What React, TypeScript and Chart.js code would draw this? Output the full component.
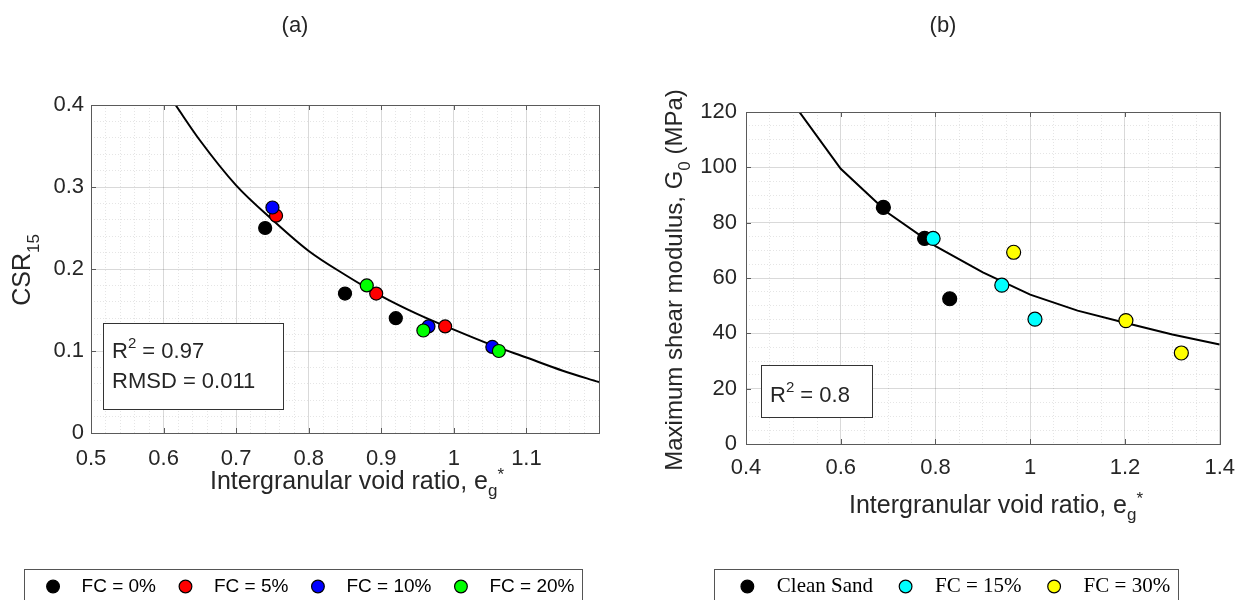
import React, { useEffect, useRef } from 'react';
import { Chart, registerables } from 'chart.js';

Chart.register(...registerables);

const SANS = "'Liberation Sans', Arial, Helvetica, sans-serif";
const SERIF = "'Liberation Serif', 'Times New Roman', serif";
const TEXT = '#262626';
const AXIS = '#5a5a5a';
const MAJOR_GRID = 'rgba(0,0,0,0.15)';
const MINOR_GRID = 'rgba(0,0,0,0.1)';

// ===== Panel (a) data =====
const A_LABELS = ['FC = 0%', 'FC = 5%', 'FC = 10%', 'FC = 20%'];
const A_COLORS = ['#000000', '#ff0000', '#0000ff', '#00ff00'];
const A_FC0_X = [0.74, 0.85, 0.92];
const A_FC0_Y = [0.25, 0.17, 0.14];
const A_FC5_X = [0.755, 0.893, 0.988];
const A_FC5_Y = [0.265, 0.17, 0.13];
const A_FC10_X = [0.75, 0.965, 1.053];
const A_FC10_Y = [0.275, 0.13, 0.105];
const A_FC20_X = [0.88, 0.958, 1.062];
const A_FC20_Y = [0.18, 0.125, 0.1];
const A_FIT_X = [0.6165, 0.65, 0.7, 0.75, 0.8, 0.85, 0.9, 0.95, 1.0, 1.05, 1.1, 1.15, 1.2];
const A_FIT_Y = [0.4, 0.357, 0.302, 0.26, 0.222, 0.193, 0.167, 0.145, 0.126, 0.108, 0.092, 0.076, 0.062];
const A_X_TICKS = [0.5, 0.6, 0.7, 0.8, 0.9, 1.0, 1.1];
const A_X_TICK_LABELS = ['0.5', '0.6', '0.7', '0.8', '0.9', '1', '1.1'];
const A_Y_TICKS = [0, 0.1, 0.2, 0.3, 0.4];
const A_Y_TICK_LABELS = ['0', '0.1', '0.2', '0.3', '0.4'];

// ===== Panel (b) data =====
const B_LABELS = ['Clean Sand', 'FC = 15%', 'FC = 30%'];
const B_COLORS = ['#000000', '#00ffff', '#ffff00'];
const B_CLEAN_X = [0.69, 0.777, 0.83];
const B_CLEAN_Y = [85.5, 74.3, 52.5];
const B_FC15_X = [0.795, 0.94, 1.01];
const B_FC15_Y = [74.3, 57.4, 45.1];
const B_FC30_X = [0.965, 1.202, 1.319];
const B_FC30_Y = [69.3, 44.6, 32.9];
const B_FIT_X = [0.5, 0.6, 0.7, 0.8, 0.9, 1.0, 1.1, 1.2, 1.3, 1.4];
const B_FIT_Y = [123, 99.5, 83.5, 71.5, 62, 54, 48.2, 43.8, 39.6, 36];
const B_X_TICKS = [0.4, 0.6, 0.8, 1.0, 1.2, 1.4];
const B_X_TICK_LABELS = ['0.4', '0.6', '0.8', '1', '1.2', '1.4'];
const B_Y_TICKS = [0, 20, 40, 60, 80, 100, 120];
const B_Y_TICK_LABELS = ['0', '20', '40', '60', '80', '100', '120'];

type Seg = { t: string; size: number; dy?: number };

const near = (v: number, arr: number[]) => arr.findIndex((a) => Math.abs(a - v) < 1e-7);

function drawRich(ctx: CanvasRenderingContext2D, segs: Seg[], x: number, y: number, align: 'left' | 'center', rotate: boolean, family: string) {
  ctx.save();
  ctx.translate(x, y);
  if (rotate) ctx.rotate(-Math.PI / 2);
  const widths = segs.map((s) => {
    ctx.font = `${s.size}px ${family}`;
    return ctx.measureText(s.t).width;
  });
  const total = widths.reduce((a, b) => a + b, 0);
  let cx = align === 'center' ? -total / 2 : 0;
  ctx.fillStyle = TEXT;
  ctx.textAlign = 'left';
  ctx.textBaseline = 'alphabetic';
  segs.forEach((s, i) => {
    ctx.font = `${s.size}px ${family}`;
    ctx.fillText(s.t, cx, s.dy || 0);
    cx += widths[i];
  });
  ctx.restore();
}

interface Spec {
  width: number;
  height: number;
  title: string;
  titleX: number;
  titleY: number;
  xMin: number; xMax: number; xMinor: number;
  yMin: number; yMax: number; yMinor: number;
  xTicks: number[]; xTickLabels: string[];
  yTicks: number[]; yTickLabels: string[];
  datasets: any[];
  xTitle: Seg[]; xTitleX: number; xTitleY: number;
  yTitle: Seg[]; yTitleX: number; yTitleY: number;
  noteLines: Seg[][]; noteBox: number[]; noteX: number; noteBaselines: number[];
  legendFamily: string; legendSize: number; legendBoxWidth: number; legendPadding: number;
  legendBoxPadL: number; legendBoxPadR: number;
  padLeft: number; padRight: number; padTop: number;
  yAxisWidth: number; xAxisHeight: number; xTickPad: number; yTickPad: number;
}

function overlay(p: Spec) {
  return {
    id: 'overlay',
    afterDraw(chart: any) {
      const ctx: CanvasRenderingContext2D = chart.ctx;
      const a = chart.chartArea;
      const xs = chart.scales.x;
      const ys = chart.scales.y;
      ctx.save();
      // inner tick marks
      ctx.strokeStyle = AXIS;
      ctx.lineWidth = 1;
      ctx.beginPath();
      p.xTicks.forEach((v) => {
        const px = Math.round(xs.getPixelForValue(v)) + 0.5;
        ctx.moveTo(px, a.bottom); ctx.lineTo(px, a.bottom - 5);
        ctx.moveTo(px, a.top); ctx.lineTo(px, a.top + 5);
      });
      p.yTicks.forEach((v) => {
        const py = Math.round(ys.getPixelForValue(v)) + 0.5;
        ctx.moveTo(a.left, py); ctx.lineTo(a.left + 5, py);
        ctx.moveTo(a.right, py); ctx.lineTo(a.right - 5, py);
      });
      ctx.stroke();
      // axes box
      ctx.strokeRect(Math.round(a.left) + 0.5, Math.round(a.top) + 0.5, Math.round(a.right - a.left), Math.round(a.bottom - a.top));
      // note box
      const [bx0, by0, bx1, by1] = p.noteBox;
      ctx.fillStyle = '#ffffff';
      ctx.fillRect(bx0, by0, bx1 - bx0, by1 - by0);
      ctx.strokeStyle = '#333333';
      ctx.strokeRect(bx0 + 0.5, by0 + 0.5, bx1 - bx0, by1 - by0);
      p.noteLines.forEach((line, i) => drawRich(ctx, line, p.noteX, p.noteBaselines[i], 'left', false, SANS));
      // axis titles
      drawRich(ctx, p.xTitle, p.xTitleX, p.xTitleY, 'center', false, SANS);
      drawRich(ctx, p.yTitle, p.yTitleX, p.yTitleY, 'center', true, SANS);
      // panel title
      drawRich(ctx, [{ t: p.title, size: 22 }], p.titleX, p.titleY, 'center', false, SANS);
      // legend frame
      const lg = chart.legend;
      if (lg && lg.legendHitBoxes && lg.legendHitBoxes.length) {
        const hb = lg.legendHitBoxes;
        const first = hb[0];
        const last = hb[hb.length - 1];
        const x0 = Math.round(first.left - p.legendBoxPadL);
        const x1 = Math.round(last.left + last.width + p.legendBoxPadR);
        const y0 = Math.round(first.top + first.height / 2 - 18);
        ctx.strokeStyle = '#555555';
        ctx.strokeRect(x0 + 0.5, y0 + 0.5, x1 - x0, 80);
      }
      ctx.restore();
    },
  };
}

function buildConfig(p: Spec): any {
  const isMajorX = (v: number) => near(v, p.xTicks) >= 0;
  const isMajorY = (v: number) => near(v, p.yTicks) >= 0;
  return {
    type: 'scatter',
    data: { datasets: p.datasets },
    plugins: [overlay(p)],
    options: {
      responsive: false,
      animation: false,
      events: [],
      layout: { padding: { left: p.padLeft, right: p.padRight, top: p.padTop, bottom: 0 } },
      plugins: {
        title: { display: false },
        tooltip: { enabled: false },
        legend: {
          display: true,
          position: 'bottom',
          align: 'center',
          labels: {
            usePointStyle: true,
            boxWidth: p.legendBoxWidth,
            boxHeight: 9,
            padding: p.legendPadding,
            color: '#000000',
            font: { family: p.legendFamily, size: p.legendSize },
            filter: (item: any, data: any) => !data.datasets[item.datasetIndex].isFit,
            sort: (a: any, b: any) => a.datasetIndex - b.datasetIndex,
            generateLabels: (chart: any) =>
              Chart.defaults.plugins.legend.labels.generateLabels(chart).map((it: any) => ({ ...it, text: '\u2002' + it.text })),
          },
        },
      },
      scales: {
        x: {
          type: 'linear',
          position: 'bottom',
          min: p.xMin,
          max: p.xMax,
          afterFit: (s: any) => { s.height = p.xAxisHeight; },
          ticks: {
            stepSize: p.xMinor,
            autoSkip: false,
            maxRotation: 0,
            minRotation: 0,
            padding: p.xTickPad,
            color: TEXT,
            font: { family: SANS, size: 22 },
            callback: (v: number) => { const i = near(v, p.xTicks); return i >= 0 ? p.xTickLabels[i] : ''; },
          },
          grid: {
            drawTicks: false,
            lineWidth: 1,
            color: (c: any) => (c.tick && isMajorX(c.tick.value) ? MAJOR_GRID : MINOR_GRID),
          },
          border: {
            display: false,
            dash: (c: any) => (c.tick && isMajorX(c.tick.value) ? [] : [1, 2]),
          },
        },
        y: {
          type: 'linear',
          position: 'left',
          min: p.yMin,
          max: p.yMax,
          afterFit: (s: any) => { s.width = p.yAxisWidth; },
          ticks: {
            stepSize: p.yMinor,
            autoSkip: false,
            padding: p.yTickPad,
            color: TEXT,
            font: { family: SANS, size: 22 },
            callback: (v: number) => { const i = near(v, p.yTicks); return i >= 0 ? p.yTickLabels[i] : ''; },
          },
          grid: {
            drawTicks: false,
            lineWidth: 1,
            color: (c: any) => (c.tick && isMajorY(c.tick.value) ? MAJOR_GRID : MINOR_GRID),
          },
          border: {
            display: false,
            dash: (c: any) => (c.tick && isMajorY(c.tick.value) ? [] : [1, 2]),
          },
        },
      },
    },
  };
}

const pts = (xs: number[], ys: number[]) => xs.map((x, i) => ({ x, y: ys[i] }));

function markerSet(label: string, color: string, xs: number[], ys: number[], radius: number, order: number) {
  return {
    type: 'scatter',
    label,
    data: pts(xs, ys),
    backgroundColor: color,
    borderColor: '#000000',
    pointBorderColor: '#000000',
    pointBackgroundColor: color,
    pointBorderWidth: 1.2,
    borderWidth: 1.2,
    pointRadius: radius,
    pointStyle: 'circle',
    order,
  };
}

function fitSet(xs: number[], ys: number[], smooth: boolean) {
  return {
    type: 'line',
    label: 'fit',
    isFit: true,
    data: pts(xs, ys),
    borderColor: '#000000',
    backgroundColor: '#000000',
    borderWidth: 2,
    pointRadius: 0,
    fill: false,
    showLine: true,
    cubicInterpolationMode: smooth ? 'monotone' : 'default',
    tension: 0,
    order: 20,
  };
}

const A_SERIES_X = [A_FC0_X, A_FC5_X, A_FC10_X, A_FC20_X];
const A_SERIES_Y = [A_FC0_Y, A_FC5_Y, A_FC10_Y, A_FC20_Y];
const B_SERIES_X = [B_CLEAN_X, B_FC15_X, B_FC30_X];
const B_SERIES_Y = [B_CLEAN_Y, B_FC15_Y, B_FC30_Y];

const specA: Spec = {
  width: 623,
  height: 606,
  title: '(a)', titleX: 295, titleY: 32,
  xMin: 0.5, xMax: 1.2, xMinor: 0.02,
  yMin: 0, yMax: 0.4, yMinor: 0.02,
  xTicks: A_X_TICKS, xTickLabels: A_X_TICK_LABELS,
  yTicks: A_Y_TICKS, yTickLabels: A_Y_TICK_LABELS,
  datasets: [
    ...A_LABELS.map((l, i) => markerSet(l, A_COLORS[i], A_SERIES_X[i], A_SERIES_Y[i], 6.5, 10 - i)),
    fitSet(A_FIT_X, A_FIT_Y, true),
  ],
  xTitle: [
    { t: 'Intergranular void ratio, e', size: 25 },
    { t: 'g', size: 17, dy: 7 },
    { t: '*', size: 17, dy: -9 },
  ],
  xTitleX: 357, xTitleY: 489,
  yTitle: [{ t: 'CSR', size: 25 }, { t: '15', size: 17, dy: 9 }],
  yTitleX: 30, yTitleY: 270,
  noteLines: [
    [{ t: 'R', size: 22 }, { t: '2', size: 15, dy: -10 }, { t: ' = 0.97', size: 22 }],
    [{ t: 'RMSD = 0.011', size: 22 }],
  ],
  noteBox: [103, 323, 283, 409], noteX: 112, noteBaselines: [358, 388],
  legendFamily: SANS, legendSize: 19, legendBoxWidth: 19, legendPadding: 20,
  legendBoxPadL: 20, legendBoxPadR: 8,
  padLeft: 19, padRight: 24, padTop: 105,
  yAxisWidth: 72, xAxisHeight: 124, xTickPad: 13, yTickPad: 7,
};

const specB: Spec = {
  width: 623,
  height: 607,
  title: '(b)', titleX: 320, titleY: 32,
  xMin: 0.4, xMax: 1.4, xMinor: 0.05,
  yMin: 0, yMax: 120, yMinor: 5,
  xTicks: B_X_TICKS, xTickLabels: B_X_TICK_LABELS,
  yTicks: B_Y_TICKS, yTickLabels: B_Y_TICK_LABELS,
  datasets: [
    ...B_LABELS.map((l, i) => markerSet(l, B_COLORS[i], B_SERIES_X[i], B_SERIES_Y[i], 7, 10 - i)),
    fitSet(B_FIT_X, B_FIT_Y, false),
  ],
  xTitle: [
    { t: 'Intergranular void ratio, e', size: 25 },
    { t: 'g', size: 17, dy: 7 },
    { t: '*', size: 17, dy: -9 },
  ],
  xTitleX: 373, xTitleY: 513,
  yTitle: [
    { t: 'Maximum shear modulus, G', size: 24 },
    { t: '0', size: 17, dy: 8 },
    { t: ' (MPa)', size: 24 },
  ],
  yTitleX: 59, yTitleY: 280,
  noteLines: [[{ t: 'R', size: 22 }, { t: '2', size: 15, dy: -10 }, { t: ' = 0.8', size: 22 }]],
  noteBox: [138, 365, 249, 417], noteX: 147, noteBaselines: [402],
  legendFamily: SERIF, legendSize: 21, legendBoxWidth: 17, legendPadding: 24,
  legendBoxPadL: 25, legendBoxPadR: 8,
  padLeft: 64, padRight: 24, padTop: 112,
  yAxisWidth: 59, xAxisHeight: 108, xTickPad: 11, yTickPad: 9,
};

function Panel({ spec, left }: { spec: Spec; left: number }) {
  const ref = useRef<HTMLCanvasElement | null>(null);
  useEffect(() => {
    if (!ref.current) return;
    const chart = new Chart(ref.current, buildConfig(spec));
    return () => chart.destroy();
  }, [spec]);
  return (
    <canvas
      ref={ref}
      width={spec.width}
      height={spec.height}
      style={{ position: 'absolute', left, top: 0, width: spec.width, height: spec.height }}
    />
  );
}

export default function App() {
  return (
    <div style={{ position: 'absolute', left: 0, top: 0, width: 1246, height: 600, overflow: 'hidden', background: '#ffffff' }}>
      <Panel spec={specA} left={0} />
      <Panel spec={specB} left={623} />
    </div>
  );
}
